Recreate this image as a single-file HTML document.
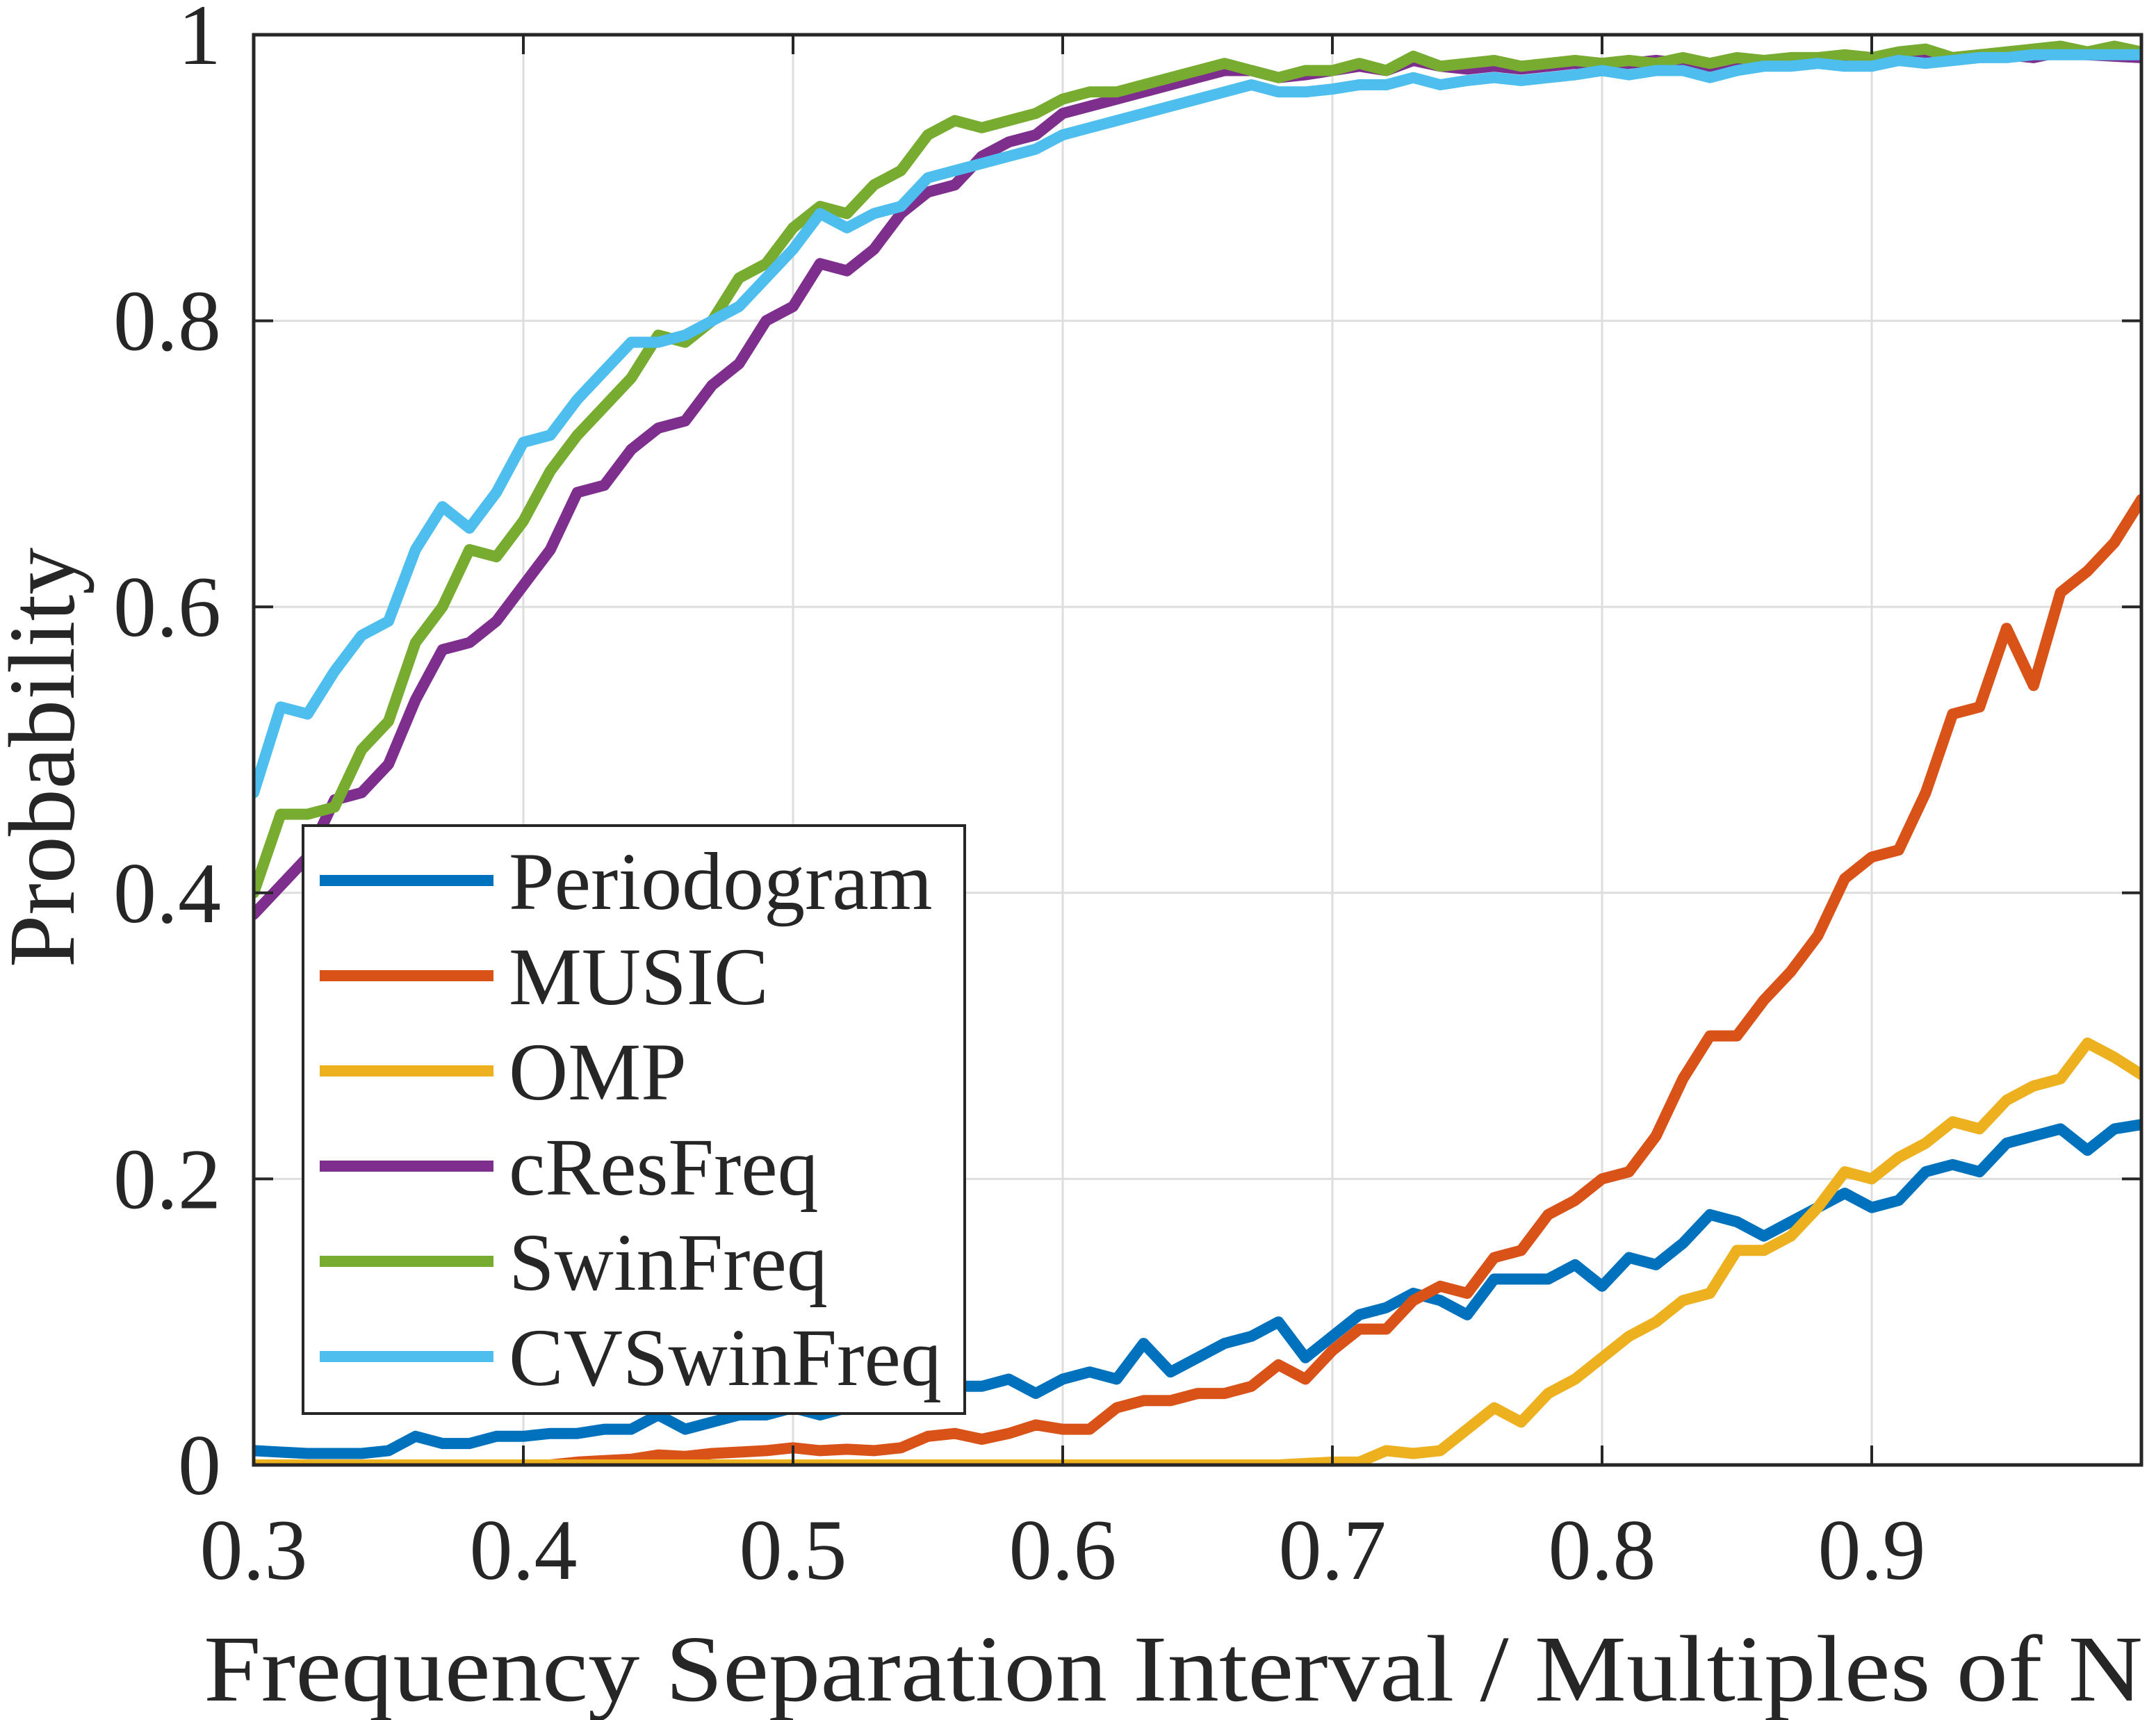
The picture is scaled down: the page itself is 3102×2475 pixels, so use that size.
<!DOCTYPE html>
<html><head><meta charset="utf-8">
<style>
html,body{margin:0;padding:0;background:#fff;}
svg{display:block;}
text{font-family:"Liberation Serif","Times New Roman",serif;fill:#262626;}
</style></head>
<body>
<svg id="chart" width="3102" height="2475" viewBox="0 0 3102 2475" xmlns="http://www.w3.org/2000/svg">
<defs><clipPath id="plotclip"><rect x="365" y="50" width="2716" height="2058"/></clipPath></defs>
<rect x="0" y="0" width="3102" height="2475" fill="#fff"/>
<g id="grid"></g>
<g id="series" clip-path="url(#plotclip)"></g>
<g id="axes"></g>
<g id="legend"></g>
</svg>
<script>
const xValues = [0.30,0.31,0.32,0.33,0.34,0.35,0.36,0.37,0.38,0.39,0.40,0.41,0.42,0.43,0.44,0.45,0.46,0.47,0.48,0.49,0.50,0.51,0.52,0.53,0.54,0.55,0.56,0.57,0.58,0.59,0.60,0.61,0.62,0.63,0.64,0.65,0.66,0.67,0.68,0.69,0.70,0.71,0.72,0.73,0.74,0.75,0.76,0.77,0.78,0.79,0.80,0.81,0.82,0.83,0.84,0.85,0.86,0.87,0.88,0.89,0.90,0.91,0.92,0.93,0.94,0.95,0.96,0.97,0.98,0.99,1.00];
const periodogram = [0.010,0.009,0.008,0.008,0.008,0.010,0.020,0.015,0.015,0.020,0.020,0.022,0.022,0.025,0.025,0.035,0.025,0.030,0.035,0.035,0.040,0.035,0.040,0.045,0.040,0.050,0.055,0.055,0.060,0.050,0.060,0.065,0.060,0.085,0.065,0.075,0.085,0.090,0.100,0.075,0.090,0.105,0.110,0.120,0.115,0.105,0.130,0.130,0.130,0.140,0.125,0.145,0.140,0.155,0.175,0.170,0.160,0.170,0.180,0.190,0.180,0.185,0.205,0.210,0.205,0.225,0.230,0.235,0.220,0.235,0.238];
const music = [0,0,0,0,0,0,0,0,0,0,0,0,0.002,0.003,0.004,0.007,0.006,0.008,0.009,0.010,0.012,0.010,0.011,0.010,0.012,0.020,0.022,0.018,0.022,0.028,0.025,0.025,0.040,0.045,0.045,0.050,0.050,0.055,0.070,0.060,0.080,0.095,0.095,0.115,0.125,0.120,0.145,0.150,0.175,0.185,0.200,0.205,0.230,0.270,0.300,0.300,0.325,0.345,0.370,0.410,0.425,0.430,0.470,0.525,0.530,0.585,0.545,0.610,0.625,0.645,0.675];
const omp = [0,0,0,0,0,0,0,0,0,0,0,0,0,0,0,0,0,0,0,0,0,0,0,0,0,0,0,0,0,0,0,0,0,0,0,0,0,0,0,0.001,0.002,0.002,0.010,0.008,0.010,0.025,0.040,0.030,0.050,0.060,0.075,0.090,0.100,0.115,0.120,0.150,0.150,0.160,0.180,0.205,0.200,0.215,0.225,0.240,0.235,0.255,0.265,0.270,0.295,0.285,0.273];
const cresfreq = [0.385,0.405,0.425,0.465,0.470,0.490,0.535,0.570,0.575,0.590,0.615,0.640,0.680,0.685,0.710,0.725,0.730,0.755,0.770,0.800,0.810,0.840,0.835,0.850,0.875,0.890,0.895,0.915,0.925,0.930,0.945,0.950,0.955,0.960,0.965,0.970,0.975,0.975,0.970,0.972,0.975,0.978,0.975,0.982,0.978,0.976,0.978,0.976,0.978,0.980,0.978,0.980,0.982,0.980,0.978,0.982,0.980,0.982,0.984,0.982,0.982,0.984,0.986,0.984,0.986,0.986,0.984,0.988,0.986,0.985,0.984];
const swinfreq = [0.400,0.455,0.455,0.460,0.500,0.520,0.575,0.600,0.640,0.635,0.660,0.695,0.720,0.740,0.760,0.790,0.785,0.800,0.830,0.840,0.865,0.880,0.875,0.895,0.905,0.930,0.940,0.935,0.940,0.945,0.955,0.960,0.960,0.965,0.970,0.975,0.980,0.975,0.970,0.975,0.975,0.980,0.975,0.985,0.978,0.980,0.982,0.978,0.980,0.982,0.980,0.982,0.980,0.984,0.980,0.984,0.982,0.984,0.984,0.986,0.984,0.988,0.990,0.984,0.986,0.988,0.990,0.992,0.988,0.992,0.988];
const cvswinfreq = [0.470,0.530,0.525,0.555,0.580,0.590,0.640,0.670,0.655,0.680,0.715,0.720,0.745,0.765,0.785,0.785,0.790,0.800,0.810,0.830,0.850,0.875,0.865,0.875,0.880,0.900,0.905,0.910,0.915,0.920,0.930,0.935,0.940,0.945,0.950,0.955,0.960,0.965,0.960,0.960,0.962,0.965,0.965,0.970,0.965,0.968,0.970,0.968,0.970,0.972,0.975,0.972,0.975,0.975,0.970,0.975,0.978,0.978,0.980,0.978,0.978,0.982,0.980,0.982,0.984,0.984,0.986,0.986,0.986,0.986,0.986];
const xTicks = [0.3,0.4,0.5,0.6,0.7,0.8,0.9];
const xTickLabels = ["0.3","0.4","0.5","0.6","0.7","0.8","0.9"];
const yTicks = [0,0.2,0.4,0.6,0.8,1];
const yTickLabels = ["0","0.2","0.4","0.6","0.8","1"];
const seriesNames = ["Periodogram","MUSIC","OMP","cResFreq","SwinFreq","CVSwinFreq"];

const NS = "http://www.w3.org/2000/svg";
const L = 365, R = 3081, T = 50, B = 2108;
const X0 = 0.3, X1 = 1.0;
function xs(v){ return L + (v - X0) / (X1 - X0) * (R - L); }
function ys(v){ return B - v * (B - T); }
function mk(tag, attrs, parent){
  const e = document.createElementNS(NS, tag);
  for (const k in attrs) e.setAttribute(k, attrs[k]);
  parent.appendChild(e);
  return e;
}
const grid = document.getElementById('grid');
const axes = document.getElementById('axes');
const seriesG = document.getElementById('series');
const legend = document.getElementById('legend');

xTicks.forEach((t, i) => {
  const x = xs(t);
  if (i > 0) {
    const g = mk('line', {x1:x, x2:x, y1:T, y2:B, stroke:'#dedede', 'stroke-width':3}, grid);
    
    
  }
  const tk = mk('line', {x1:x, x2:x, y1:B, y2:B-28, stroke:'#262626', 'stroke-width':4}, axes);
  
  
  const tk2 = mk('line', {x1:x, x2:x, y1:T, y2:T+28, stroke:'#262626', 'stroke-width':4}, axes);
  
  
  const lb = mk('text', {x:x, y:2272, 'font-size':124, 'text-anchor':'middle'}, axes);
  lb.textContent = xTickLabels[i];
  
  
});
yTicks.forEach((t, i) => {
  const y = ys(t);
  if (i > 0 && i < yTicks.length - 1) {
    const g = mk('line', {x1:L, x2:R, y1:y, y2:y, stroke:'#dedede', 'stroke-width':3}, grid);
    
    
  }
  const tk = mk('line', {x1:L, x2:L+28, y1:y, y2:y, stroke:'#262626', 'stroke-width':4}, axes);
  
  
  const tk2 = mk('line', {x1:R, x2:R-28, y1:y, y2:y, stroke:'#262626', 'stroke-width':4}, axes);
  
  
  const lb = mk('text', {x:318, y:y+42, 'font-size':124, 'text-anchor':'end'}, axes);
  lb.textContent = yTickLabels[i];
  
  
});

const frame = mk('rect', {x:L, y:T, width:R-L, height:B-T, fill:'none', stroke:'#262626', 'stroke-width':5}, axes);



const xt = mk('text', {x:293, y:2447, 'font-size':136, 'text-anchor':'start', textLength:2790, lengthAdjust:'spacingAndGlyphs'}, axes);
xt.textContent = 'Frequency Separation Interval / Multiples of N';


const yt = mk('text', {x:0, y:0, 'font-size':136, 'text-anchor':'middle', transform:'translate(106,1090) rotate(-90)'}, axes);
yt.textContent = 'Probability';



const allSeries = [periodogram, music, omp, cresfreq, swinfreq, cvswinfreq];
const colors = ['#0072BD','#D95319','#EDB120','#7E2F8E','#77AC30','#4DBEEE'];
const keys = ['periodogram','music','omp','cresfreq','swinfreq','cvswinfreq'];
allSeries.forEach((s, k) => {
  const d = s.map((v, i) => (i ? 'L' : 'M') + xs(xValues[i]).toFixed(1) + ' ' + ys(v).toFixed(1)).join(' ');
  const p = mk('path', {d:d, fill:'none', stroke:colors[k], 'stroke-width':16, 'stroke-linejoin':'round', 'stroke-linecap':'round'}, seriesG);
  
  
});

const lb = mk('rect', {x:436, y:1188, width:952, height:846, fill:'#fff', stroke:'#262626', 'stroke-width':4}, legend);


seriesNames.forEach((n, k) => {
  const y = 1267 + k * 137;
  const ln = mk('line', {x1:460, x2:710, y1:y, y2:y, stroke:colors[k], 'stroke-width':16}, legend);
  
  
  const t = mk('text', {x:732, y:y+41, 'font-size':118, fill:'#000'}, legend);
  t.textContent = n;
  
  
});
</script>
</body></html>
